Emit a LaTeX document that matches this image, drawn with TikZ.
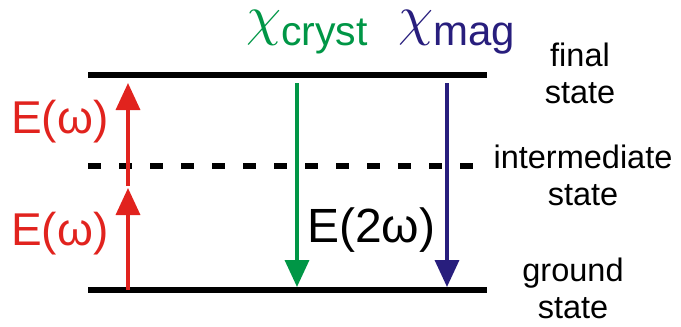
\documentclass[tikz,border=0pt]{standalone}
\usepackage{graphicx}
\usepackage{fontspec}
\setmainfont{Liberation Sans}
\usetikzlibrary{arrows.meta}
\definecolor{laserred}{RGB}{225,35,30}
\definecolor{crystgreen}{RGB}{0,150,70}
\definecolor{magblue}{RGB}{40,30,125}
\newcommand{\chiglyph}{\raisebox{10.5pt}{\scalebox{5.6}{\normalsize$\chi$}}}

\begin{document}
\begin{tikzpicture}[x=1pt,y=-1pt,
  level/.style={line width=5.5pt},
  photon/.style={line width=3.5pt,-{Triangle[length=27pt,width=24pt]}},
  statelabel/.style={align=center,inner sep=0pt,font=\fontsize{32.5}{37}\selectfont},
  fieldlabel/.style={anchor=base west,inner sep=0pt}]
\useasboundingbox (0,0) rectangle (681,327);
\coordinate (final-l) at (88,75);
\coordinate (final-r) at (487,75);
\coordinate (inter-l) at (88,166);
\coordinate (inter-r) at (490,166);
\coordinate (ground-l) at (88,290);
\coordinate (ground-r) at (487,290);
\draw[level] (final-l) -- (final-r);
\draw[level,line width=6.5pt,dash pattern=on 13pt off 18pt] (inter-l) -- (inter-r);
\draw[level] (ground-l) -- (ground-r);
\coordinate (w1-a) at (128,290);
\coordinate (w1-b) at (128,188);
\coordinate (w2-a) at (128,186);
\coordinate (w2-b) at (128,83);
\coordinate (cr-a) at (297,83);
\coordinate (cr-b) at (297,287);
\coordinate (mg-a) at (447,83);
\coordinate (mg-b) at (447,287);
\draw[photon,laserred] (w1-a) -- (w1-b);
\draw[photon,laserred] (w2-a) -- (w2-b);
\draw[photon,crystgreen] (cr-a) -- (cr-b);
\draw[photon,magblue] (mg-a) -- (mg-b);
\node[fieldlabel,text=laserred,font=\fontsize{46}{46}\selectfont] (omega-up) at (11,133) {E(ω)};
\node[fieldlabel,text=laserred,font=\fontsize{46}{46}\selectfont] (omega-lo) at (11,245) {E(ω)};
\node[fieldlabel,font=\fontsize{48}{48}\selectfont] (omega-sh) at (307,242) {E(2ω)};
\node[fieldlabel,text=crystgreen,font=\fontsize{41}{41}\selectfont] (chi-cryst) at (246,45) {\chiglyph cryst};
\node[fieldlabel,text=magblue,font=\fontsize{42}{42}\selectfont] (chi-mag) at (398,45) {\chiglyph mag};
\node[statelabel] (final) at (580,73.5) {final\\state};
\node[statelabel] (inter) at (583,175.5) {intermediate\\state};
\node[statelabel] (ground) at (573,288.5) {ground\\state};
\end{tikzpicture}
\end{document}
